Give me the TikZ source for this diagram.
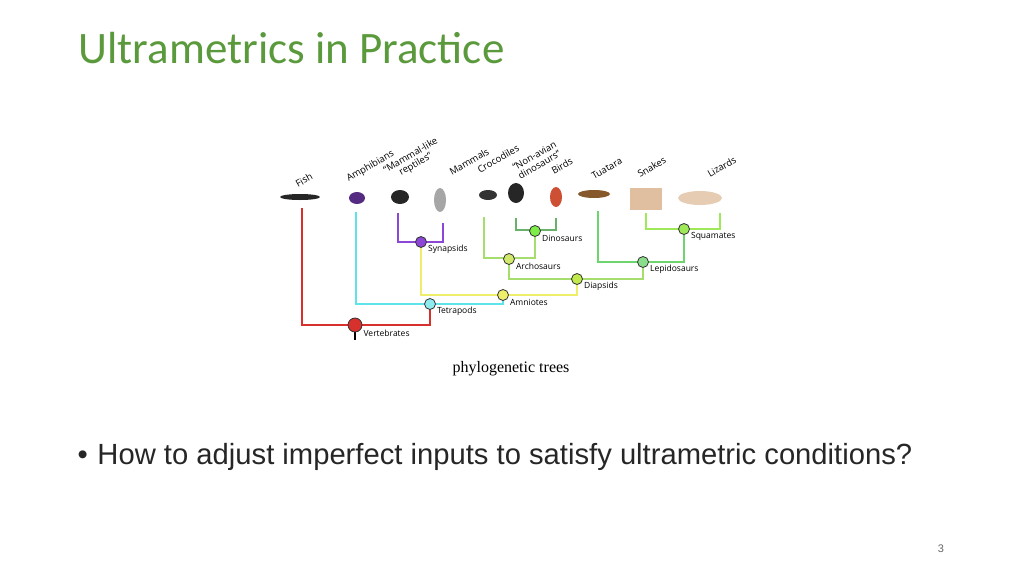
\documentclass[tikz,border=0pt]{standalone}
\usepackage{fontspec}
\setmainfont{Liberation Sans}
\newfontfamily\titlefont{Carlito}
\newfontfamily\treefont{Open Sans}
\newfontfamily\capfont{Liberation Serif}
\usetikzlibrary{positioning}
\definecolor{titlegreen}{HTML}{5B9A3C}
\definecolor{vred}{HTML}{D8302C}
\definecolor{tcyan}{HTML}{5FE3EA}
\definecolor{ayellow}{HTML}{EEEE6A}
\definecolor{spurple}{HTML}{8C47D6}
\definecolor{dgreen}{HTML}{A6DE6E}
\definecolor{lgreen}{HTML}{6ED46E}
\definecolor{sgreen}{HTML}{9FE85A}
\begin{document}
\begin{tikzpicture}[x=1pt, y=-1pt,
        clade/.style = {circle, draw=black!80, line width=0.8pt, minimum size=11pt, inner sep=0pt},%
        branch/.style = {line width=1.6pt},%
        cladename/.style = {font=\treefont\fontsize{8.5}{9}\selectfont, inner sep=1pt},%
        leafname/.style = {font=\treefont\fontsize{9.5}{10}\selectfont, rotate=30, anchor=south west, inner sep=0pt, align=center},%
        beast/.style = {fill=black!85}%
    ]%
        \useasboundingbox (0,0) rectangle (1024,576);
        % title, caption, bullet
        \node[anchor=west, text=titlegreen, font=\titlefont\fontsize{45}{48}\selectfont] (title) at (75,48) {Ultrametrics in Practice};
        \node[font=\capfont\fontsize{16}{18}\selectfont] (caption) at (511,369) {phylogenetic trees};
        \node[anchor=west, text=black!85, font=\fontsize{29.2}{32}\selectfont] (bullet) at (74,457) {\textbullet\,\,How to adjust imperfect inputs to satisfy ultrametric conditions?};
        \node[text=black!60, font=\fontsize{11}{12}\selectfont] (pageno) at (941,549) {3};
        % leaf tips
        \coordinate (fish) at (302,208);
        \coordinate (amph) at (356,212);
        \coordinate (mlrep) at (398,213);
        \coordinate (mamm) at (443,223);
        \coordinate (croc) at (484,217);
        \coordinate (nonav) at (516,218);
        \coordinate (birds) at (556,218);
        \coordinate (tuat) at (598,211);
        \coordinate (snake) at (646,213);
        \coordinate (lizard) at (720,213);
        % branches
        \draw[branch, vred] (fish) |- (430,325) -- (430,304);
        \draw[branch, black] (355,325) -- (355,340);
        \draw[branch, tcyan] (amph) |- (503,304) -- (503,295);
        \draw[branch, ayellow] (421,242) |- (577,295) -- (577,279);
        \draw[branch, spurple] (mlrep) |- (443,242) -- (mamm);
        \draw[branch, dgreen] (509,259) |- (643,279) -- (643,262);
        \draw[branch, dgreen] (croc) |- (535,258) -- (535,231);
        \draw[branch, lgreen!80!black!90] (nonav) |- (556,230) -- (birds);
        \draw[branch, lgreen] (tuat) |- (684,262) -- (684,229);
        \draw[branch, sgreen] (snake) |- (720,229) -- (lizard);
        % clade nodes
        \node[clade, fill=vred, minimum size=14pt] (vert) at (355,325) {};
        \node[clade, fill=tcyan!70] (tetra) at (430,304) {};
        \node[clade, fill=ayellow] (amnio) at (503,295) {};
        \node[clade, fill=spurple] (syn) at (421,242) {};
        \node[clade, fill=dgreen!70!yellow] (diap) at (577,279) {};
        \node[clade, fill=ayellow!60!dgreen] (arch) at (509,259) {};
        \node[clade, fill=sgreen!80!green] (dino) at (535,231) {};
        \node[clade, fill=lgreen!80] (lepi) at (643,262) {};
        \node[clade, fill=sgreen] (squa) at (684,229) {};
        \node[cladename, right=0pt of vert, yshift=-8pt] (vertlab) {Vertebrates};
        \node[cladename, right=0pt of tetra, yshift=-7pt] (tetralab) {Tetrapods};
        \node[cladename, right=0pt of amnio, yshift=-7pt] (amniolab) {Amniotes};
        \node[cladename, right=0pt of syn, yshift=-7pt] (synlab) {Synapsids};
        \node[cladename, right=0pt of diap, yshift=-7pt] (diaplab) {Diapsids};
        \node[cladename, right=0pt of arch, yshift=-7pt] (archlab) {Archosaurs};
        \node[cladename, right=0pt of dino, yshift=-7pt] (dinolab) {Dinosaurs};
        \node[cladename, right=0pt of lepi, yshift=-7pt] (lepilab) {Lepidosaurs};
        \node[cladename, right=0pt of squa, yshift=-7pt] (squalab) {Squamates};
        % animals (rough silhouettes)
        \fill[beast] (300,197) ellipse (20pt and 3pt);
        \fill[spurple!60!black] (357,198) ellipse (8pt and 6pt);
        \fill[beast] (400,197) ellipse (9pt and 7pt);
        \fill[black!35] (440,200) ellipse (6pt and 12pt);
        \fill[black!80] (488,195) ellipse (9pt and 5pt);
        \fill[beast] (516,193) ellipse (8pt and 10pt);
        \fill[vred!60!brown] (556,197) ellipse (6pt and 10pt);
        \fill[brown!70!black] (594,194) ellipse (16pt and 4pt);
        \fill[brown!50!white] (630,188) rectangle (662,210);
        \fill[brown!40!white] (700,198) ellipse (22pt and 7pt);
        % leaf labels
        \node[leafname] (fishlab) at (298,188) {Fish};
        \node[leafname] (amphlab) at (350,184) {Amphibians};
        \node[leafname] (mllab) at (392,184) {“Mammal-like\\reptiles”};
        \node[leafname] (mammlab) at (452,176) {Mammals};
        \node[leafname] (croclab) at (480,174) {Crocodiles};
        \node[leafname] (nonavlab) at (520,180) {“Non-avian\\dinosaurs”};
        \node[leafname] (birdslab) at (554,175) {Birds};
        \node[leafname] (tuatlab) at (594,180) {Tuatara};
        \node[leafname] (snakelab) at (640,178) {Snakes};
        \node[leafname] (lizlab) at (710,178) {Lizards};
    \end{tikzpicture}
\end{document}
